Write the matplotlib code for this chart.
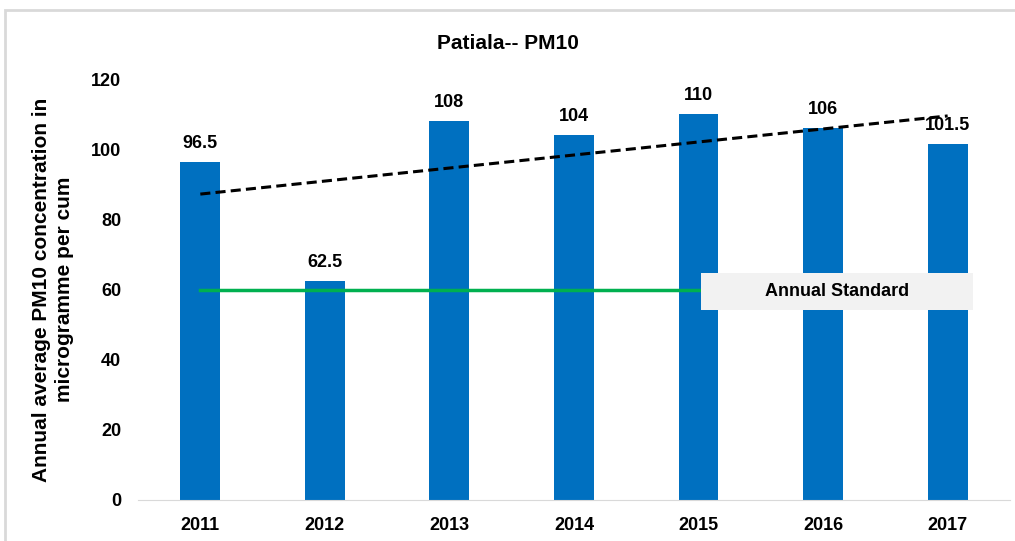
import numpy as np
import matplotlib.pyplot as plt
from matplotlib.patches import Rectangle

plt.rcParams['font.family'] = ['Liberation Sans', 'DejaVu Sans']

years = ['2011', '2012', '2013', '2014', '2015', '2016', '2017']
pm10 = [96.5, 62.5, 108, 104, 110, 106, 101.5]
value_labels = ['96.5', '62.5', '108', '104', '110', '106', '101.5']
standard = 60

x = np.arange(len(years))

fig = plt.figure(figsize=(10.15, 5.41), dpi=100)
ax = fig.add_axes([0.136, 0.0758, 0.859, 0.778])

# outer chart frame (cut off at right and bottom like the screenshot)
fig.patches.append(Rectangle((5 / 1015, -0.05), 1.1, 1 - 10 / 541 + 0.05,
                             transform=fig.transFigure, fill=False,
                             edgecolor='#d9d9d9', linewidth=2))

ax.bar(x, pm10, width=0.32, color='#0070C0', zorder=2)
for xi, v, lab in zip(x, pm10, value_labels):
    ax.annotate(lab, (xi, v), xytext=(0, 7), textcoords='offset points',
                ha='center', va='bottom', fontsize=13, fontweight='bold')

# annual standard line
ax.plot([x[0], x[-1]], [standard, standard], color='#00B050', lw=2.5, zorder=3)
ax.add_patch(Rectangle((4.02, 54.2), 2.18, 10.5, fc='#f2f2f2', ec='none', zorder=4))
ax.text(5.11, standard - 0.5, 'Annual Standard', ha='center', va='center',
        fontsize=13, fontweight='bold', zorder=5)

# linear trend
coef = np.polyfit(x, pm10, 1)
ax.plot(x, np.polyval(coef, x), color='black', ls=(0, (3.3, 1.7)), lw=2.2, zorder=3)

ax.set_xlim(-0.5, 6.5)
ax.set_ylim(0, 120)
ax.set_yticks(range(0, 121, 20))
ax.set_xticks(x)
ax.set_xticklabels(years)
ax.tick_params(axis='x', length=0, labelsize=13, pad=12)
ax.tick_params(axis='y', length=0, labelsize=13, pad=12)
for lab in ax.get_xticklabels() + ax.get_yticklabels():
    lab.set_fontweight('bold')
for s in ['top', 'right', 'left']:
    ax.spines[s].set_visible(False)
ax.spines['bottom'].set_color('#d9d9d9')

ax.set_ylabel('Annual average PM10 concentration in\nmicrogramme per cum',
              fontsize=15, fontweight='bold', labelpad=12, linespacing=1.3)
fig.text(0.5, 0.92, 'Patiala-- PM10', ha='center', va='center',
         fontsize=15, fontweight='bold')

fig.savefig('out.png', dpi=100)
